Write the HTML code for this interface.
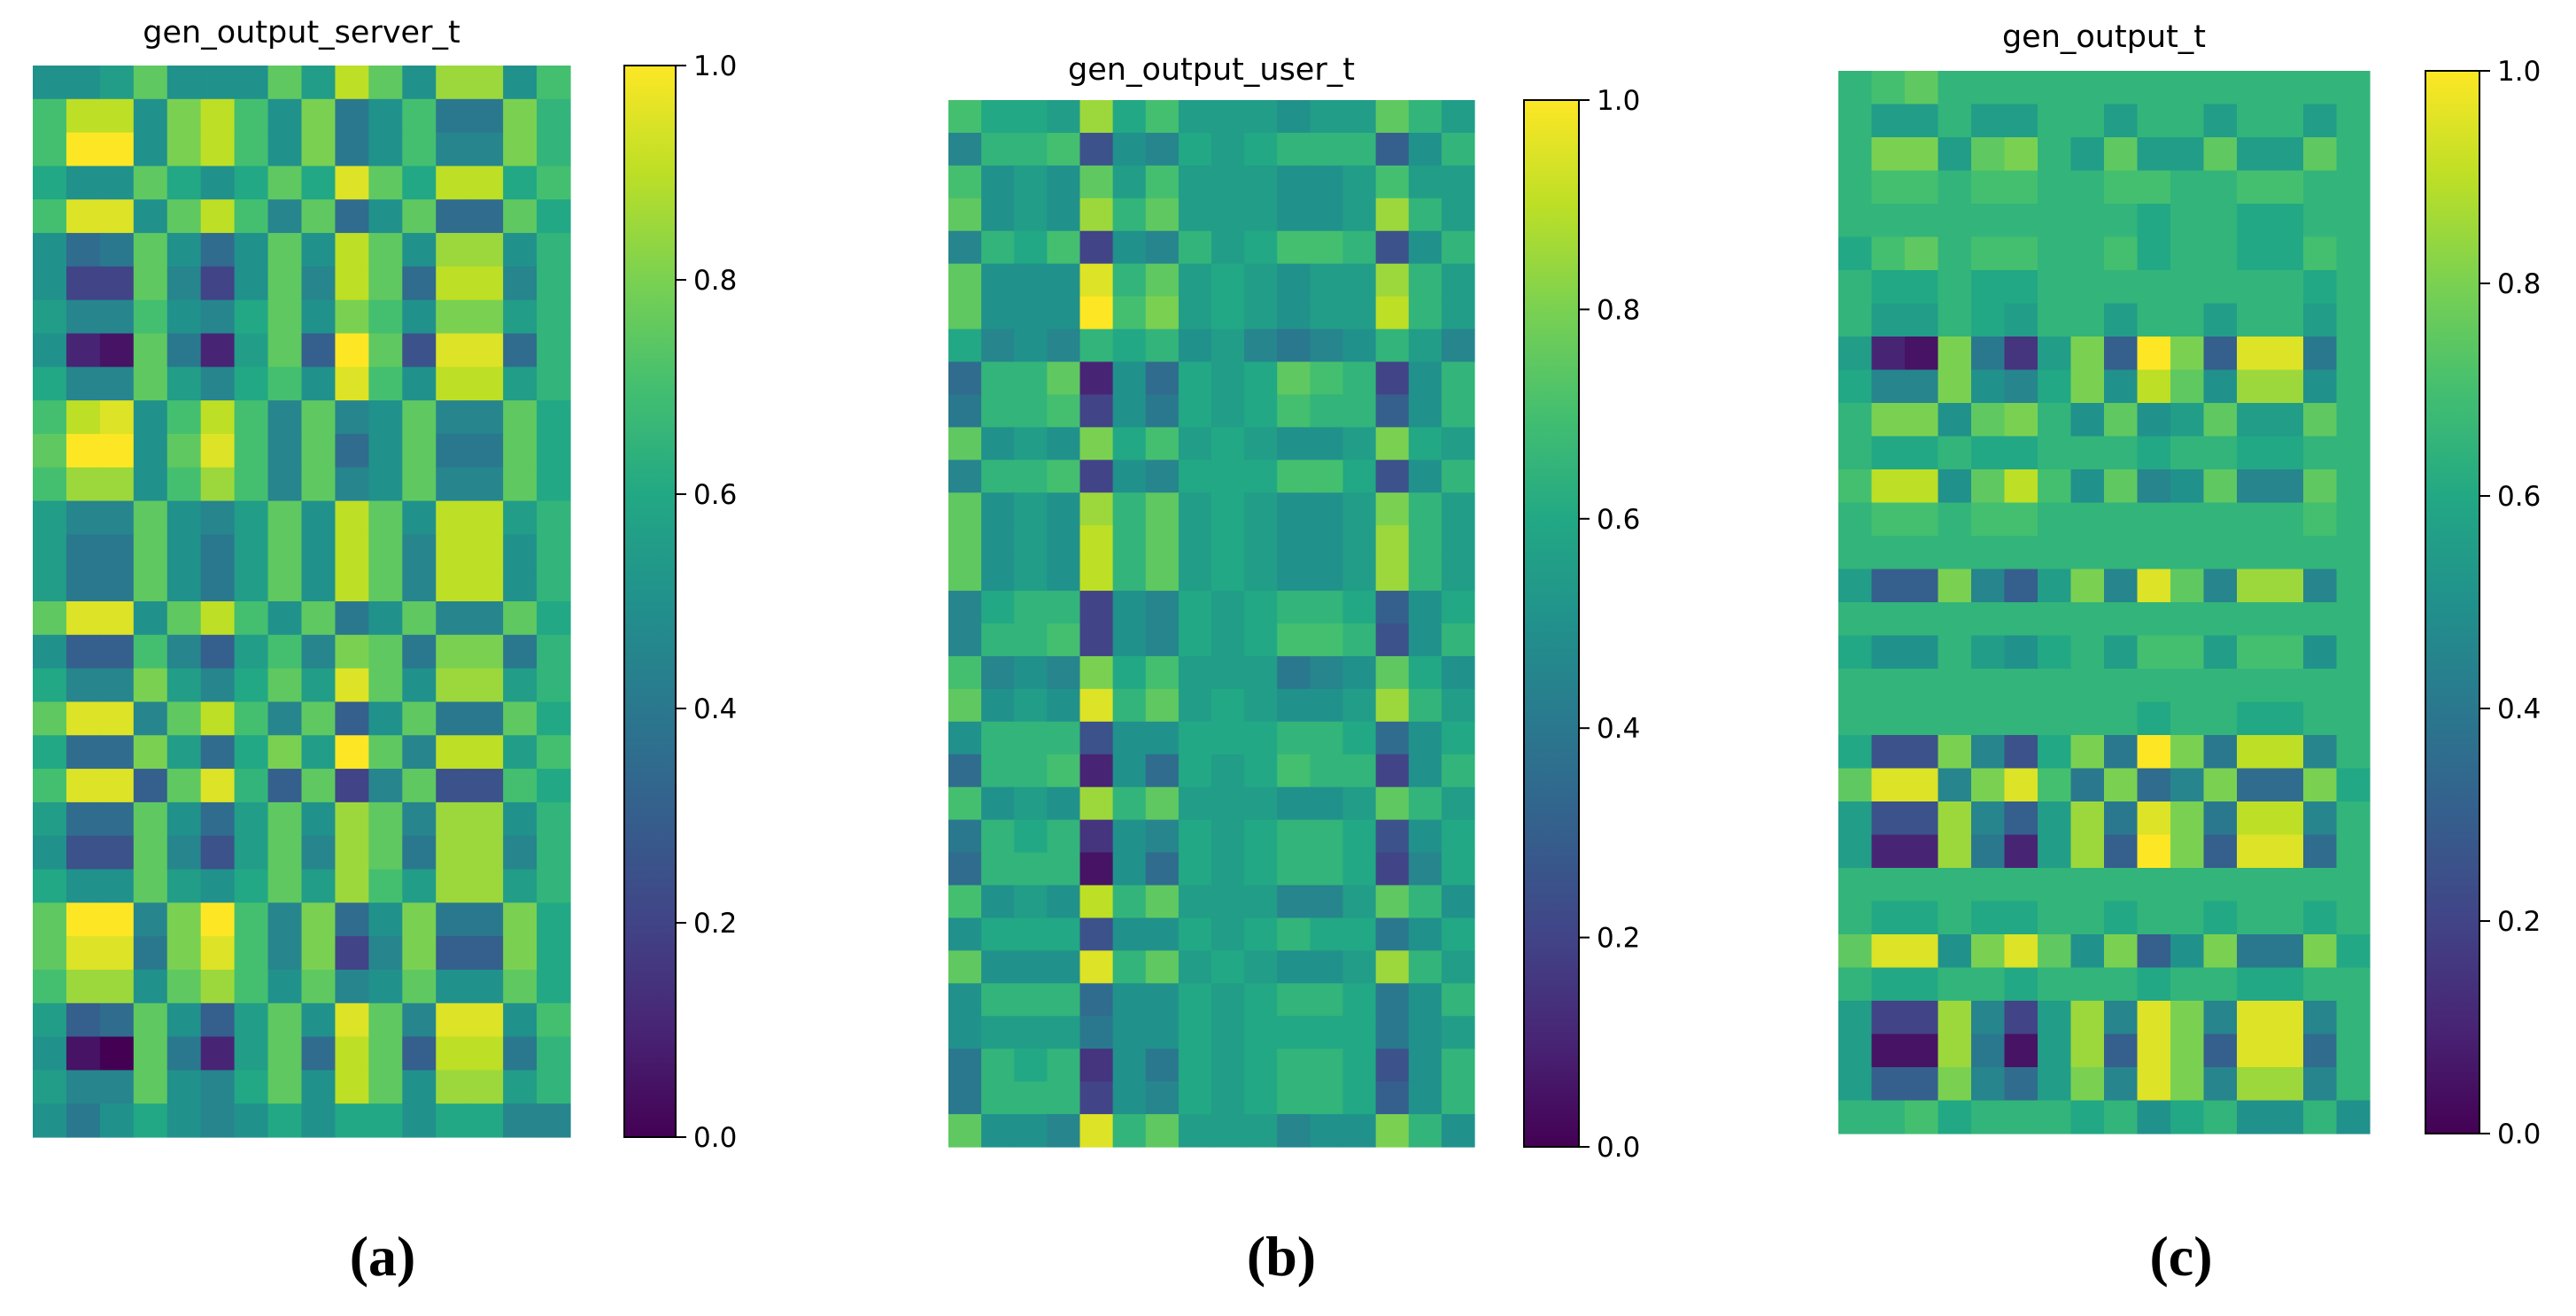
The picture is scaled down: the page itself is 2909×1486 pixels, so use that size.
<!DOCTYPE html>
<html><head><meta charset="utf-8"><style>
html,body{margin:0;padding:0;background:#fff;}
svg{display:block;}
</style></head><body>
<svg id="fig" width="2909" height="1486" viewBox="0 0 2909 1486" xmlns="http://www.w3.org/2000/svg"></svg>
<script>
// ---- data (values in tenths, 0..10) ----
const serverRows = [
[5,5,5.5,7.5,5,5,5,7.5,5.5,9,7.5,5,8.5,8.5,5,7],
[7,9,9,5,8,9,7,5,8,4,5,7,4,4,8,6.5],
[7,10,10,5,8,9,7,5,8,4,5,7,4.5,4.5,8,6.5],
[6,5,5,7.5,6,5,6,7.5,6,9.5,7.5,6,9,9,6,7],
[7,9.5,9.5,5,7.5,9,7,4.5,7.5,3.5,5,7.5,3.5,3.5,7.5,6],
[5,3.5,4,7.5,5,3.5,5,7.5,5,9,7.5,5,8.5,8.5,5,6.5],
[5,2,2,7.5,4.5,2,5,7.5,4.5,9,7.5,3.5,9,9,4.5,6.5],
[5.5,4.5,4.5,7,5,4.5,6,7.5,5,8,7,5,8,8,5.5,6.5],
[5,1,0.5,7.5,4,1,5.5,7.5,3,10,7.5,2.5,9.5,9.5,3.5,6.5],
[6,4.5,4.5,7.5,5.5,4.5,6,7,5,9.5,7,5,9,9,5.5,6.5],
[7,9,9.5,5,7,9,7,4.5,7.5,4.5,5,7.5,4.5,4.5,7.5,6],
[7.5,10,10,5,7.5,9.5,7,4.5,7.5,3.5,5,7.5,4,4,7.5,6],
[7,8.5,8.5,5,7,8.5,7,4.5,7.5,4.5,5,7.5,4.5,4.5,7.5,6],
[5.5,4.5,4.5,7.5,5,4.5,5.5,7.5,5,9,7.5,5,9,9,5.5,6.5],
[5.5,4,4,7.5,5,4,5.5,7.5,5,9,7.5,4.5,9,9,5,6.5],
[5.5,4,4,7.5,5,4,5.5,7.5,5,9,7.5,4.5,9,9,5,6.5],
[7.5,9.5,9.5,5,7.5,9,7,5,7.5,4,5,7.5,4.5,4.5,7.5,6],
[5,3,3,7,4.5,3,5.5,7,4.5,8,7.5,4,8,8,4,6.5],
[6,4.5,4.5,8,5.5,4.5,6,7.5,5.5,9.5,7.5,5,8.5,8.5,5.5,6.5],
[7.5,9.5,9.5,4.5,7.5,9,7,4.5,7.5,3,5,7.5,4,4,7.5,6],
[6,3.5,3.5,8,5.5,3.5,6,8,5.5,10,7.5,4.5,9,9,5.5,7],
[7,9.5,9.5,3,7.5,9.5,6.5,3,7.5,2,4.5,7.5,2.5,2.5,7,6],
[5.5,3.5,3.5,7.5,5,3.5,5.5,7.5,5,8.5,7.5,4.5,8.5,8.5,5,6.5],
[5,2.5,2.5,7.5,4.5,2.5,5.5,7.5,4.5,8.5,7.5,4,8.5,8.5,4.5,6.5],
[6,5,5,7.5,5.5,5,6,7.5,5.5,8.5,7,5.5,8.5,8.5,5.5,6.5],
[7.5,10,10,4.5,8,10,7,4.5,8,3.5,5,8,4,4,8,6],
[7.5,9.5,9.5,4,8,9.5,7,4.5,8,2,4.5,8,3,3,8,6],
[7,8.5,8.5,5,7.5,8.5,7,5,7.5,4.5,5,7.5,5,5,7.5,6],
[5.5,3,3.5,7.5,5,3,5.5,7.5,5,9.5,7.5,4.5,9.5,9.5,5,7],
[5,0.5,0,7.5,4,1,5.5,7.5,3.5,9,7.5,3,9,9,4,6.5],
[5.5,4.5,4.5,7.5,5,4.5,6,7.5,5,9,7.5,5,8.5,8.5,5.5,6.5],
[5,4,5,6,5,4.5,5,6,5,6,6,5,6,6,4.5,4.5]
];
const userRows = [
[7,6,6,5.5,8.5,6,7,5.5,5.5,5.5,5,5.5,5.5,7.5,6.5,5.5],
[4.5,6.5,6.5,7,2.5,5,4.5,6,5.5,6,6.5,6.5,6.5,3,5,6.5],
[7,5,5.5,5,7.5,5.5,7,5.5,5.5,5.5,5,5,5.5,7,5.5,5.5],
[7.5,5,5.5,5,8.5,6.5,7.5,5.5,5.5,5.5,5,5,5.5,8.5,6.5,5.5],
[4.5,6.5,6,7,2,5,4.5,6.5,5.5,6,7,7,6.5,2.5,5,6.5],
[7.5,5,5,5,9.5,6.5,7.5,5.5,6,5.5,5,5.5,5.5,8.5,6.5,5.5],
[7.5,5,5,5,10,7,8,5.5,6,5.5,5,5.5,5.5,9,6.5,5.5],
[6,4.5,5,4.5,6.5,6,6.5,5,5.5,4.5,4,4.5,5,6.5,5.5,4.5],
[3.5,6.5,6.5,7.5,1,5,3.5,6,5.5,6,7.5,7,6.5,2,5,6.5],
[4,6.5,6.5,7,2,5,4,6,5.5,6,7,6.5,6.5,3,5,6.5],
[7.5,5,5.5,5,8,6,7,5.5,6,5.5,5,5,5.5,8,6,5.5],
[4.5,6.5,6.5,7,2,5,4.5,6,6,6,7,7,6,2.5,5,6.5],
[7.5,5,5.5,5,8.5,6.5,7.5,5.5,6,5.5,5,5,5.5,8,6.5,5.5],
[7.5,5,5.5,5,9,6.5,7.5,5.5,6,5.5,5,5,5.5,8.5,6.5,5.5],
[7.5,5,5.5,5,9,6.5,7.5,5.5,6,5.5,5,5,5.5,8.5,6.5,5.5],
[4.5,6,6.5,6.5,2,5,4.5,6,5.5,6,6.5,6.5,6,3,5,6],
[4.5,6.5,6.5,7,2,5,4.5,6,5.5,6,7,7,6.5,2.5,5,6.5],
[7,4.5,5,4.5,8,6,7,5.5,5.5,5.5,4,4.5,5,7.5,6,5],
[7.5,5,5.5,5,9.5,6.5,7.5,5.5,6,5.5,5,5,5.5,8.5,6.5,5.5],
[5,6.5,6.5,6.5,2.5,5,5,6,6,6,6.5,6.5,6,3.5,5,6],
[3.5,6.5,6.5,7,1,5,3.5,6,5.5,6,7,6.5,6.5,2,5,6.5],
[7,5,5.5,5,8.5,6.5,7.5,5.5,5.5,5.5,5,5,5.5,7.5,6.5,5.5],
[4,6.5,6,6.5,1.5,5,4.5,6,5.5,6,6.5,6.5,6,2.5,5,6],
[3.5,6.5,6.5,6.5,0.5,5,3.5,6,5.5,6,6.5,6.5,6,2,4.5,6],
[7,5,5.5,5,9,6.5,7.5,5.5,5.5,5.5,4.5,4.5,5.5,7.5,6.5,5],
[5,6,6,6,2.5,5,5,6,5.5,6,6.5,6,6,4,5,6],
[7.5,5,5,5,9.5,6.5,7.5,5.5,6,5.5,5,5,5.5,8.5,6.5,5.5],
[5,6.5,6.5,6.5,3.5,5,5,6,5.5,6,6.5,6.5,6,4,5,6.5],
[5,5.5,5.5,5.5,4,5,5,6,5.5,6,6,6,6,4,5,5.5],
[4,6.5,6,6.5,1.5,5,4,6,5.5,6,6.5,6.5,6,2.5,5,6.5],
[4,6.5,6.5,6.5,2,5,4.5,6,5.5,6,6.5,6.5,6,3,5,6.5],
[7.5,5,5,4.5,9.5,6.5,7.5,5.5,5.5,5.5,4.5,5,5,8,6.5,5]
];
const outputRows = [
[6.5,7,7.5,6.5,6.5,6.5,6.5,6.5,6.5,6.5,6.5,6.5,6.5,6.5,6.5,6.5],
[6.5,5.5,5.5,6.5,5.5,5.5,6.5,6.5,5.5,6.5,6.5,5.5,6.5,6.5,5.5,6.5],
[6.5,8,8,5.5,7.5,8,6.5,5.5,7.5,5.5,5.5,7.5,5.5,5.5,7.5,6.5],
[6.5,7,7,6.5,7,7,6.5,6.5,7,7,6.5,6.5,7,7,6.5,6.5],
[6.5,6.5,6.5,6.5,6.5,6.5,6.5,6.5,6.5,6,6.5,6.5,6,6,6.5,6.5],
[6,7,7.5,6.5,7,7,6.5,6.5,7,6,6.5,6.5,6,6,7,6.5],
[6.5,6,6,6.5,6,6,6.5,6.5,6.5,6.5,6.5,6.5,6.5,6.5,6,6.5],
[6.5,5.5,5.5,6.5,6,5.5,6.5,6.5,5.5,6.5,6.5,5.5,6.5,6.5,5.5,6.5],
[5.5,1,0.5,8,4,1.5,5.5,8,3,10,8,3,9.5,9.5,4,6.5],
[6,4.5,4.5,8,5,4.5,6,8,5,9,7.5,5,8.5,8.5,5,6.5],
[6.5,8,8,5,7.5,8,6.5,5,7.5,5,5.5,7.5,5.5,5.5,7.5,6.5],
[6.5,6,6,6.5,6,6,6.5,6.5,6.5,6,6.5,6.5,6,6,6.5,6.5],
[7,9,9,5,7.5,9,7,5,7.5,4.5,5,7.5,4.5,4.5,7.5,6.5],
[6.5,7,7,6.5,7,7,6.5,6.5,6.5,6.5,6.5,6.5,6.5,6.5,7,6.5],
[6.5,6.5,6.5,6.5,6.5,6.5,6.5,6.5,6.5,6.5,6.5,6.5,6.5,6.5,6.5,6.5],
[5.5,3,3,8,4.5,3,5.5,8,4.5,9.5,7.5,4.5,8.5,8.5,4.5,6.5],
[6.5,6.5,6.5,6.5,6.5,6.5,6.5,6.5,6.5,6.5,6.5,6.5,6.5,6.5,6.5,6.5],
[6,5,5,6.5,5.5,5,6,6.5,5.5,7,7,5.5,7,7,5,6.5],
[6.5,6.5,6.5,6.5,6.5,6.5,6.5,6.5,6.5,6.5,6.5,6.5,6.5,6.5,6.5,6.5],
[6.5,6.5,6.5,6.5,6.5,6.5,6.5,6.5,6.5,6,6.5,6.5,6,6,6.5,6.5],
[6,2.5,2.5,8,4.5,2.5,6,8,4,10,8,4,9,9,4.5,6.5],
[7.5,9.5,9.5,4.5,8,9.5,7,4,8,3.5,4.5,8,3.5,3.5,8,6],
[5.5,2.5,2.5,8.5,4.5,3,5.5,8.5,4,9.5,8,4,9,9,4.5,6.5],
[5.5,1,1,8.5,4,1,5.5,8.5,3,10,8,3,9.5,9.5,3.5,6.5],
[6.5,6.5,6.5,6.5,6.5,6.5,6.5,6.5,6.5,6.5,6.5,6.5,6.5,6.5,6.5,6.5],
[6.5,6,6,6.5,6,6,6.5,6.5,6,6.5,6.5,6,6.5,6.5,6,6.5],
[7.5,9.5,9.5,5,8,9.5,7.5,5,8,3,5,8,4,4,8,6],
[6.5,6,6,6.5,6.5,6,6.5,6.5,6.5,6,6.5,6.5,6,6,6.5,6.5],
[5.5,2,2,8.5,4.5,2,5.5,8.5,4.5,9.5,8,4.5,9.5,9.5,4.5,6.5],
[5.5,0.5,0.5,8.5,4,0.5,5.5,8.5,3,9.5,8,3,9.5,9.5,3.5,6.5],
[5.5,3,3,8,4.5,3.5,5.5,8,4.5,9.5,8,4.5,8.5,8.5,4.5,6.5],
[6.5,6.5,7,6,6.5,6.5,6.5,6,6.5,5,6,6.5,5,5,6.5,5]
];
const tickLabels = ["0.0","0.2","0.4","0.6","0.8","1.0"];
const tickValues = [0,0.2,0.4,0.6,0.8,1.0];
const titles = ["gen_output_server_t","gen_output_user_t","gen_output_t"];
const captions = ["(a)","(b)","(c)"];

// ---- styling / layout ----
const VIR = ["#440154","#482475","#414487","#355f8d","#2a788e","#21918c","#22a884","#44bf70","#7ad151","#bddf26","#fde725"];
function hex(h){return [parseInt(h.substr(1,2),16),parseInt(h.substr(3,2),16),parseInt(h.substr(5,2),16)];}
function viridis(v){
  v=Math.max(0,Math.min(1,v));
  const f=v*10, i=Math.min(9,Math.floor(f)), t=f-i;
  const a=hex(VIR[i]), b=hex(VIR[i+1]);
  return "rgb("+a.map((c,k)=>Math.round(c+(b[k]-c)*t)).join(",")+")";
}
const panels = [
  {data:serverRows, hx:37, hy:74, hw:607, hh:1210, cx:705, cy:74, cw:58, ch:1210, ty:48, capX:432, name:"server"},
  {data:userRows,   hx:1071, hy:113, hw:594, hh:1182, cx:1721, cy:113, cw:62, ch:1182, ty:90, capX:1447, name:"user"},
  {data:outputRows, hx:2076, hy:80, hw:600, hh:1200, cx:2739, cy:80, cw:61, ch:1200, ty:53, capX:2463, name:"output"}
];
const NS="http://www.w3.org/2000/svg";
const svg=document.getElementById('fig');
function mk(tag, attrs, parent){const e=document.createElementNS(NS,tag);for(const k in attrs)e.setAttribute(k,attrs[k]);(parent||svg).appendChild(e);return e;}

// gradient def
const defs=mk('defs',{});
const grad=mk('linearGradient',{id:'vgrad',x1:'0',y1:'1',x2:'0',y2:'0'},defs);
VIR.forEach((c,i)=>mk('stop',{offset:(i*10)+'%','stop-color':c},grad));

panels.forEach((p,pi)=>{
  const g=mk('g',{});
  
  
  const rows=p.data.length, cols=p.data[0].length;
  const xScale=j=>p.hx+j*p.hw/cols;
  const yScale=i=>p.hy+i*p.hh/rows;
  const hm=mk('g',{},g);
  
  
  p.data.forEach((row,i)=>row.forEach((v,j)=>{
    const x0=xScale(j), x1=xScale(j+1), y0=yScale(i), y1=yScale(i+1);
    const r=mk('rect',{x:x0.toFixed(2),y:y0.toFixed(2),width:(x1-x0+0.6).toFixed(2),height:(y1-y0+0.6).toFixed(2),fill:viridis(v/10)},hm);
    
    
  }));
  const t=mk('text',{x:p.hx+p.hw/2,y:p.ty,'text-anchor':'middle','font-family':'DejaVu Sans, Liberation Sans, sans-serif','font-size':'35',fill:'#000'},g);
  t.textContent=titles[pi];
  
  
  // colorbar
  const cb=mk('g',{},g);
  
  
  mk('rect',{x:p.cx,y:p.cy,width:p.cw,height:p.ch,fill:'url(#vgrad)',stroke:'#000','stroke-width':'2'},cb);
  tickValues.forEach((tv,k)=>{
    const y=p.cy+p.ch*(1-tv);
    mk('line',{x1:p.cx+p.cw,x2:p.cx+p.cw+12,y1:y,y2:y,stroke:'#000','stroke-width':'2'},cb);
    const lt=mk('text',{x:p.cx+p.cw+20,y:y+11,'font-family':'DejaVu Sans, Liberation Sans, sans-serif','font-size':'31',fill:'#000'},cb);
    lt.textContent=tickLabels[k];
    
    
  });
  const cap=mk('text',{x:p.capX,y:1440,'text-anchor':'middle','font-family':'Liberation Serif, serif','font-size':'64','font-weight':'bold',fill:'#000'},g);
  cap.textContent=captions[pi];
  
  
});
</script>
</body></html>
